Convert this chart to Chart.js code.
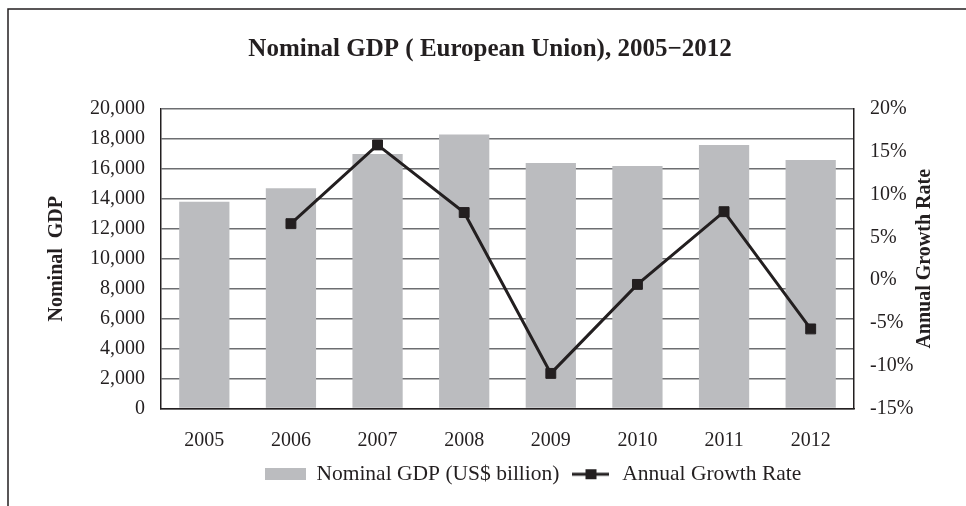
<!DOCTYPE html>
<html>
<head>
<meta charset="utf-8">
<script src="https://cdn.jsdelivr.net/npm/chart.js@4.4.1/dist/chart.umd.min.js"></script>
<style>
html,body{margin:0;padding:0;background:#fff;}
#wrap{width:966px;height:506px;position:relative;}
</style>
</head>
<body>
<div id="wrap"><canvas id="c" width="966" height="506"></canvas></div>
<script>
// ---- data ----
const categories = ['2005', '2006', '2007', '2008', '2009', '2010', '2011', '2012'];
const gdpValues = [13800, 14700, 17000, 18300, 16400, 16200, 17600, 16600];
const growthRates = [null, 6.6, 15.8, 7.9, -10.9, -0.5, 8.0, -5.7];
const gdpAxisRange = [0, 20000];
const gdpAxisStep = 2000;
const rateAxisRange = [-15, 20];
const rateAxisStep = 5;
const chartTitle = 'Nominal GDP ( European Union), 2005\u22122012';
const leftAxisTitle = 'Nominal  GDP';
const rightAxisTitle = 'Annual Growth Rate';
const seriesNames = ['Nominal GDP (US$ billion)', 'Annual Growth Rate'];

// ---- styles ----
const INK = '#231f20';
const BAR_GRAY = '#bbbcbf';
const GRID = '#6d6e71';
const FONT = 'Liberation Serif';

function makeBarIcon() {
  const c = document.createElement('canvas');
  c.width = 41; c.height = 12;
  const x = c.getContext('2d');
  x.fillStyle = BAR_GRAY;
  x.fillRect(0, 0, 41, 12);
  return c;
}
function makeLineIcon() {
  const c = document.createElement('canvas');
  c.width = 37; c.height = 12;
  const x = c.getContext('2d');
  x.strokeStyle = INK; x.lineWidth = 3;
  x.beginPath(); x.moveTo(0, 6); x.lineTo(37, 6); x.stroke();
  x.fillStyle = INK;
  x.fillRect(13, 1, 11, 10);
  return c;
}
const barIcon = makeBarIcon();
const lineIcon = makeLineIcon();

const decorPlugin = {
  id: 'decor',
  afterLayout(chart) {
    const lg = chart.legend;
    if (lg) { lg.left += 50; lg.right += 50; }
    const tt = chart.titleBlock;
    if (tt) { tt.left += 7; tt.right += 7; }
  },
  beforeDraw(chart) {
    const ctx = chart.ctx;
    ctx.save();
    ctx.fillStyle = '#fff';
    ctx.fillRect(0, 0, chart.width, chart.height);
    ctx.strokeStyle = INK;
    ctx.lineWidth = 1.5;
    ctx.beginPath();
    ctx.moveTo(8, chart.height);
    ctx.lineTo(8, 9);
    ctx.lineTo(chart.width, 9);
    ctx.stroke();
    ctx.restore();
  },
  afterDraw(chart) {
    const s = chart.scales.yRate;
    const ctx = chart.ctx;
    ctx.save();
    ctx.translate(925, (s.top + s.bottom) / 2);
    ctx.rotate(-Math.PI / 2);
    ctx.font = 'bold 20px "' + FONT + '"';
    ctx.fillStyle = INK;
    ctx.textAlign = 'center';
    ctx.textBaseline = 'middle';
    ctx.fillText(rightAxisTitle, 0, 0);
    ctx.restore();
  }
};

new Chart(document.getElementById('c'), {
  data: {
    labels: categories,
    datasets: [
      {
        type: 'bar',
        label: seriesNames[0],
        data: gdpValues,
        backgroundColor: BAR_GRAY,
        borderWidth: 0,
        barPercentage: 0.58,
        categoryPercentage: 1.0,
        yAxisID: 'yGdp',
        order: 2
      },
      {
        type: 'line',
        label: seriesNames[1],
        data: growthRates,
        borderColor: INK,
        backgroundColor: INK,
        borderWidth: 3,
        pointStyle: 'rect',
        pointRadius: 7,
        pointBorderWidth: 1,
        pointBackgroundColor: INK,
        pointBorderColor: INK,
        tension: 0,
        fill: false,
        yAxisID: 'yRate',
        order: 1
      }
    ]
  },
  options: {
    responsive: false,
    devicePixelRatio: 1,
    animation: false,
    layout: { padding: { left: 0, right: 0, top: 0, bottom: 11 } },
    font: { family: FONT },
    plugins: {
      tooltip: { enabled: false },
      title: {
        display: true,
        text: chartTitle,
        color: INK,
        font: { family: FONT, size: 25, weight: 'bold' },
        padding: { top: 35, bottom: 44 }
      },
      legend: {
        position: 'bottom',
        labels: {
          usePointStyle: true,
          pointStyleWidth: 41,
          padding: 11,
          color: INK,
          font: { family: FONT, size: 21.5 },
          generateLabels(chart) {
            const items = Chart.defaults.plugins.legend.labels.generateLabels(chart);
            items.sort((a, b) => a.datasetIndex - b.datasetIndex);
            items.forEach(it => { it.pointStyle = it.datasetIndex === 0 ? barIcon : lineIcon; it.lineWidth = 0; });
            return items;
          }
        }
      }
    },
    scales: {
      x: {
        afterFit(scale) { scale.height = 44; },
        grid: { display: false, drawTicks: false },
        border: { display: true, color: INK, width: 1.5 },
        ticks: { color: INK, font: { family: FONT, size: 20 }, padding: 20 }
      },
      yGdp: {
        type: 'linear',
        position: 'left',
        min: gdpAxisRange[0],
        max: gdpAxisRange[1],
        afterFit(scale) { scale.width = 161; },
        grid: { color: GRID, lineWidth: 1.5, drawTicks: false },
        border: { display: true, color: INK, width: 1.5 },
        ticks: {
          stepSize: gdpAxisStep,
          padding: 16,
          color: INK,
          font: { family: FONT, size: 20 },
          callback: v => v.toLocaleString('en-US')
        },
        title: {
          display: true,
          text: leftAxisTitle,
          color: INK,
          font: { family: FONT, size: 20, weight: 'bold' },
          padding: { top: 45, bottom: 0 }
        }
      },
      yRate: {
        type: 'linear',
        position: 'right',
        min: rateAxisRange[0],
        max: rateAxisRange[1],
        afterFit(scale) { scale.width = 112; },
        grid: { display: false, drawTicks: false },
        border: { display: true, color: INK, width: 1.5 },
        ticks: {
          stepSize: rateAxisStep,
          padding: 16,
          color: INK,
          font: { family: FONT, size: 20 },
          callback: v => v + '%'
        }
      }
    }
  },
  plugins: [decorPlugin]
});
</script>
</body>
</html>
